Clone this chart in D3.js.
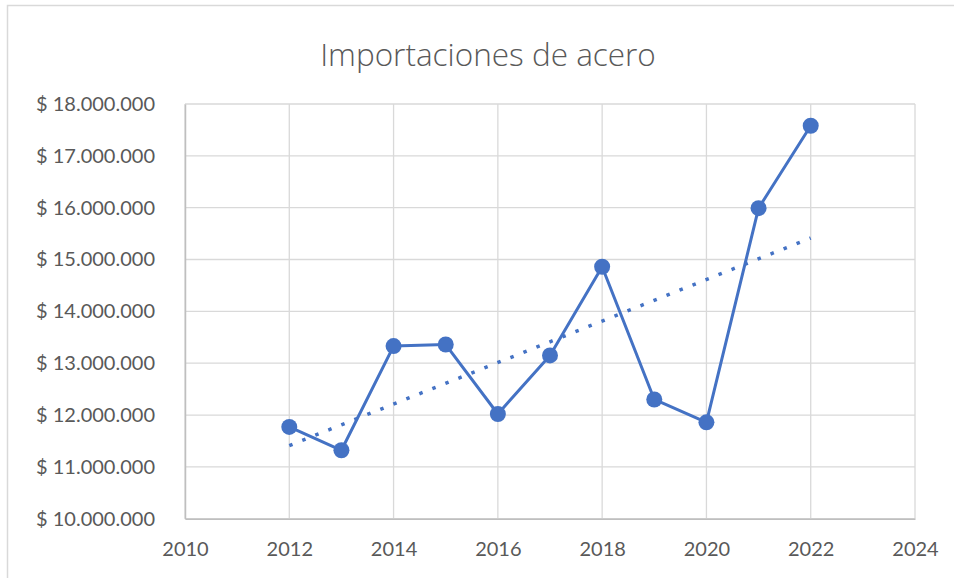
<!DOCTYPE html>
<html>
<head>
<meta charset="utf-8">
<script src="https://cdn.jsdelivr.net/npm/d3@7"></script>
<style>
  body { margin: 0; background: #fff; }
  svg { display: block; }
</style>
</head>
<body>
<div id="chart"></div>
<script>
// data
var years = [2012, 2013, 2014, 2015, 2016, 2017, 2018, 2019, 2020, 2021, 2022];
var imports = [11770000, 11320000, 13330000, 13360000, 12020000, 13150000, 14860000, 12300000, 11860000, 15990000, 17580000];
var xTicks = [2010, 2012, 2014, 2016, 2018, 2020, 2022, 2024];
var yTicks = [10000000, 11000000, 12000000, 13000000, 14000000, 15000000, 16000000, 17000000, 18000000];
var title = "Importaciones de acero";

var w = 954, h = 578;
var margin = { top: 104, right: 39, bottom: 59.3, left: 185 };

var locale = d3.formatLocale({ decimal: ",", thousands: ".", grouping: [3], currency: ["$ ", ""] });
var money = locale.format("$,.0f");

var svg = d3.select("#chart").append("svg")
  .attr("width", w)
  .attr("height", h);

// chart frame
svg.append("rect")
  .attr("x", 7.5).attr("y", 5.5)
  .attr("width", 1000).attr("height", 1000)
  .style("fill", "none")
  .style("stroke", "#d9d9d9")
  .style("stroke-width", 1.5);

var xScale = d3.scaleLinear()
  .domain([2010, 2024])
  .range([margin.left, w - margin.right]);

var yScale = d3.scaleLinear()
  .domain([10000000, 18000000])
  .range([h - margin.bottom, margin.top]);

// gridlines
svg.append("g")
  .selectAll("line")
  .data(yTicks)
  .enter()
  .append("line")
  .attr("x1", xScale(2010)).attr("x2", xScale(2024))
  .attr("y1", function(d){ return yScale(d) })
  .attr("y2", function(d){ return yScale(d) })
  .style("stroke", "#d9d9d9")
  .style("stroke-width", 1.3);

svg.append("g")
  .selectAll("line")
  .data(xTicks)
  .enter()
  .append("line")
  .attr("y1", yScale(10000000)).attr("y2", yScale(18000000))
  .attr("x1", function(d){ return xScale(d) })
  .attr("x2", function(d){ return xScale(d) })
  .style("stroke", "#d9d9d9")
  .style("stroke-width", 1.3);

// axes
var xAxis = d3.axisBottom(xScale)
  .tickValues(xTicks)
  .tickFormat(d3.format("d"))
  .tickSize(0)
  .tickPadding(23);

var yAxis = d3.axisLeft(yScale)
  .tickValues(yTicks)
  .tickFormat(money)
  .tickSize(0)
  .tickPadding(30);

var gx = svg.append("g")
  .attr("transform", "translate(0," + yScale(10000000) + ")")
  .call(xAxis);

var gy = svg.append("g")
  .attr("transform", "translate(" + xScale(2010) + ",0)")
  .call(yAxis);

[gx, gy].forEach(function(g){
  g.select(".domain").style("stroke", "#bfbfbf").style("stroke-width", 1.5);
  g.selectAll("text")
    .style("font-family", "Lato, 'Open Sans', sans-serif")
    .style("font-size", "20px")
    .style("fill", "#595959");
});

// linear trend (least squares on the series)
var mx = d3.mean(years), my = d3.mean(imports);
var sxy = d3.sum(years, function(d, i){ return (d - mx) * (imports[i] - my) });
var sxx = d3.sum(years, function(d){ return (d - mx) * (d - mx) });
var slope = sxy / sxx, icpt = my - slope * mx;
var trendEnds = [years[0], years[years.length - 1]];

svg.append("path")
  .datum(trendEnds)
  .attr("d", d3.line()
    .x(function(d){ return xScale(d) })
    .y(function(d){ return yScale(icpt + slope * d) }))
  .style("fill", "none")
  .style("stroke", "#4472c4")
  .style("stroke-width", 3.5)
  .style("stroke-dasharray", "3.5,10.5");

// series line
svg.append("path")
  .datum(years)
  .attr("d", d3.line()
    .x(function(d){ return xScale(d) })
    .y(function(d, i){ return yScale(imports[i]) }))
  .style("fill", "none")
  .style("stroke", "#4472c4")
  .style("stroke-width", 3)
  .style("stroke-linejoin", "round");

svg.selectAll(".dot")
  .data(years)
  .enter()
  .append("circle")
  .attr("class", "dot")
  .attr("r", 8)
  .attr("cx", function(d){ return xScale(d) })
  .attr("cy", function(d, i){ return yScale(imports[i]) })
  .style("fill", "#4472c4");

svg.append("text")
  .attr("x", 488)
  .attr("y", 66)
  .attr("text-anchor", "middle")
  .text(title)
  .style("font-family", "'Open Sans', sans-serif")
  .style("font-weight", 300)
  .style("font-size", "31.5px")
  .style("fill", "#595959");
</script>
</body>
</html>
